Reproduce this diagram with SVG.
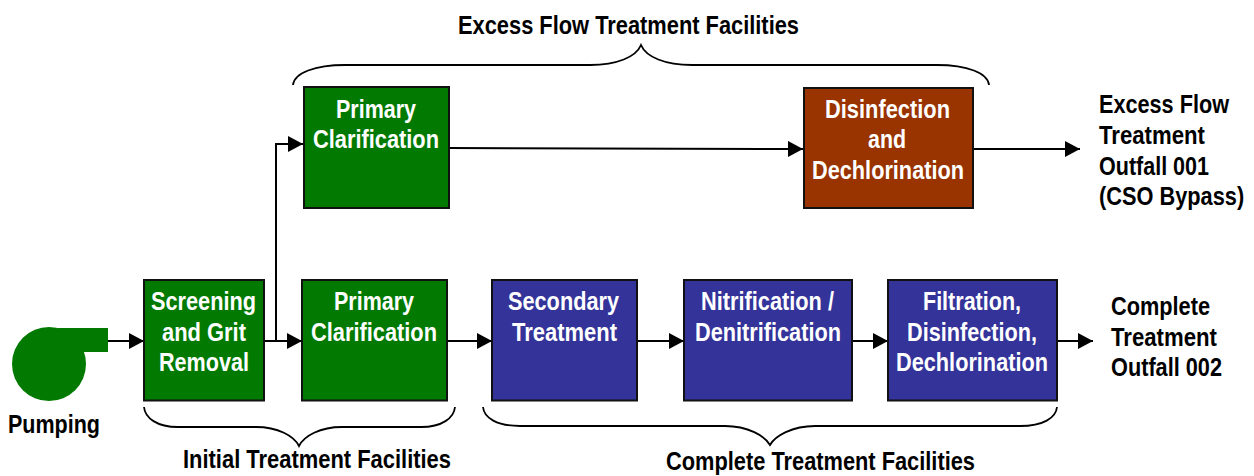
<svg xmlns="http://www.w3.org/2000/svg" width="1254" height="476" viewBox="0 0 1254 476">
<style>
text{font-family:"Liberation Sans",Arial,sans-serif;font-weight:700;font-size:26px}
.w{fill:#fff}.k{fill:#000}
.box{stroke:#111;stroke-width:2}
.g{fill:#027a02}.b{fill:#333399}.r{fill:#993300}
.c{fill:none;stroke:#000;stroke-width:2}
.br{fill:none;stroke:#000;stroke-width:1.8}
</style>
<defs>
<marker id="a" markerUnits="userSpaceOnUse" markerWidth="16" markerHeight="16" refX="15" refY="8" orient="auto"><path d="M0,0L15,8L0,16Z" fill="#000"/></marker>
</defs>
<rect width="1254" height="476" fill="#fff"/>
<g id="connectors">
<path class="c" marker-end="url(#a)" d="M108,341H144"/>
<path class="c" marker-end="url(#a)" d="M264,341H302"/>
<path class="c" marker-end="url(#a)" d="M276,341V144H303"/>
<path class="c" marker-end="url(#a)" d="M447,341H492"/>
<path class="c" marker-end="url(#a)" d="M637,341H684"/>
<path class="c" marker-end="url(#a)" d="M852,341H888"/>
<path class="c" marker-end="url(#a)" d="M1057,341H1093"/>
<path class="c" marker-end="url(#a)" d="M449,148L803,149"/>
<path class="c" marker-end="url(#a)" d="M973,149H1080"/>
</g>
<g id="braces">
<path class="br" d="M293,85C294,73 315,65 345,65H590C617,65 636,57 641,45C646,57 665,65 692,65H937C967,65 988,73 989,85"/>
<path class="br" d="M144,407C145,418 157,427 178,427H256C278,427 294,436 299,446C304,436 320,427 342,427H421C442,427 454,418 455,407"/>
<path class="br" d="M483,407C484,418 497,426 520,426H725C748,426 765,436 770,445C775,436 792,426 815,426H1020C1043,426 1056,418 1057,407"/>
</g>
<g id="pump"><circle cx="49" cy="364" r="37" fill="#027a02"/><rect x="58" y="328" width="50" height="24" fill="#027a02"/></g>
<g id="screening"><rect class="box g" x="144" y="280" width="120" height="120.500"/>
<text class="w" x="151" y="310" textLength="105" lengthAdjust="spacingAndGlyphs">Screening</text>
<text class="w" x="162" y="341" textLength="84" lengthAdjust="spacingAndGlyphs">and Grit</text>
<text class="w" x="159" y="371" textLength="90" lengthAdjust="spacingAndGlyphs">Removal</text></g>
<g id="primary2"><rect class="box g" x="302" y="280" width="145" height="120.500"/>
<text class="w" x="334" y="310" textLength="80" lengthAdjust="spacingAndGlyphs">Primary</text>
<text class="w" x="311" y="341" textLength="126" lengthAdjust="spacingAndGlyphs">Clarification</text></g>
<g id="primary1"><rect class="box g" x="304" y="87" width="145" height="121"/>
<text class="w" x="336" y="118" textLength="80" lengthAdjust="spacingAndGlyphs">Primary</text>
<text class="w" x="313" y="148" textLength="126" lengthAdjust="spacingAndGlyphs">Clarification</text></g>
<g id="disinfection"><rect class="box r" x="804" y="88" width="169" height="120"/>
<text class="w" x="825" y="118" textLength="125" lengthAdjust="spacingAndGlyphs">Disinfection</text>
<text class="w" x="868" y="148" textLength="38" lengthAdjust="spacingAndGlyphs">and</text>
<text class="w" x="812" y="179" textLength="152" lengthAdjust="spacingAndGlyphs">Dechlorination</text></g>
<g id="secondary"><rect class="box b" x="492" y="280" width="145" height="120.500"/>
<text class="w" x="508" y="310" textLength="111" lengthAdjust="spacingAndGlyphs">Secondary</text>
<text class="w" x="512" y="341" textLength="105" lengthAdjust="spacingAndGlyphs">Treatment</text></g>
<g id="nitrification"><rect class="box b" x="684" y="280" width="168" height="120.500"/>
<text class="w" x="701" y="310" textLength="133" lengthAdjust="spacingAndGlyphs">Nitrification /</text>
<text class="w" x="695" y="341" textLength="146" lengthAdjust="spacingAndGlyphs">Denitrification</text></g>
<g id="filtration"><rect class="box b" x="888" y="280" width="169" height="120.500"/>
<text class="w" x="923" y="310" textLength="98" lengthAdjust="spacingAndGlyphs">Filtration,</text>
<text class="w" x="907" y="341" textLength="130" lengthAdjust="spacingAndGlyphs">Disinfection,</text>
<text class="w" x="896" y="371" textLength="152" lengthAdjust="spacingAndGlyphs">Dechlorination</text></g>
<g id="labels">
<text class="k" x="458" y="34" textLength="341" lengthAdjust="spacingAndGlyphs">Excess Flow Treatment Facilities</text>
<text class="k" x="8" y="433" textLength="92" lengthAdjust="spacingAndGlyphs">Pumping</text>
<text class="k" x="183" y="468" textLength="268" lengthAdjust="spacingAndGlyphs">Initial Treatment Facilities</text>
<text class="k" x="666" y="470" textLength="309" lengthAdjust="spacingAndGlyphs">Complete Treatment Facilities</text>
<text class="k" x="1099" y="113" textLength="130" lengthAdjust="spacingAndGlyphs">Excess Flow</text>
<text class="k" x="1099" y="144" textLength="106" lengthAdjust="spacingAndGlyphs">Treatment</text>
<text class="k" x="1099" y="175" textLength="110" lengthAdjust="spacingAndGlyphs">Outfall 001</text>
<text class="k" transform="translate(1099,205) scale(.838,1)">(CSO Bypass)</text>
<text class="k" x="1111" y="315" textLength="99" lengthAdjust="spacingAndGlyphs">Complete</text>
<text class="k" x="1111" y="346" textLength="106" lengthAdjust="spacingAndGlyphs">Treatment</text>
<text class="k" x="1111" y="376" textLength="111" lengthAdjust="spacingAndGlyphs">Outfall 002</text>
</g>
</svg>
